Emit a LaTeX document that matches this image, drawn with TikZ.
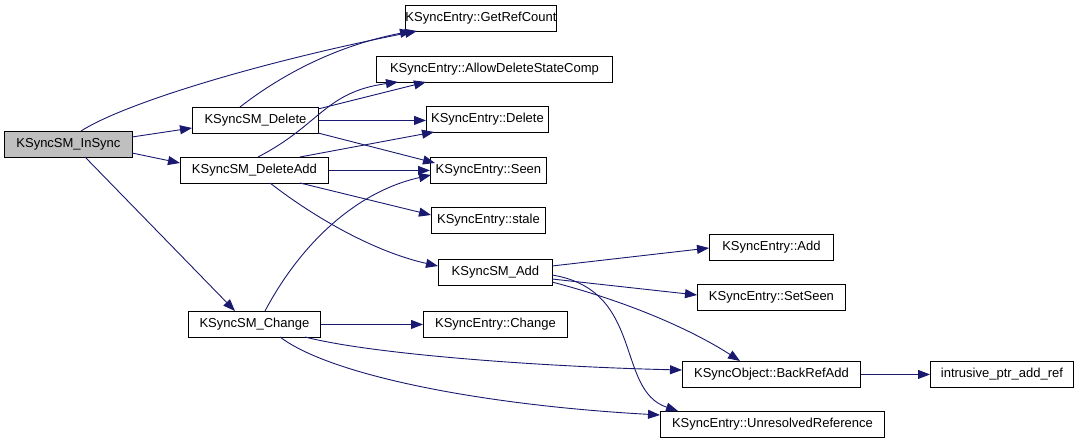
\documentclass[tikz,border=0pt]{standalone}
\usepackage{fontspec}
\setmainfont{Liberation Sans}
\usetikzlibrary{arrows.meta,calc}
\definecolor{edgeblue}{HTML}{191970}
\definecolor{nodegray}{HTML}{BFBFBF}
\begin{document}
\begin{tikzpicture}[x=1pt,y=-1pt,
  fn/.style={draw=black,line width=0.9pt,fill=white,minimum height=26pt,inner sep=0pt,
    font=\fontsize{13}{16}\selectfont,anchor=north west},
  call/.style={draw=edgeblue,line width=0.9pt,-{Triangle[length=12pt,width=9pt]},fill=none}]
\useasboundingbox (0,0) rectangle (1079,443);
% nodes (placed by top-left corner)
\node[fn,fill=nodegray,minimum width=128pt] (insync) at (4,131) {KSyncSM\_InSync};
\node[fn,minimum width=126pt] (del) at (192,107) {KSyncSM\_Delete};
\node[fn,minimum width=148pt] (deladd) at (180,157) {KSyncSM\_DeleteAdd};
\node[fn,minimum width=132pt] (change) at (188,311) {KSyncSM\_Change};
\node[fn,minimum width=114pt] (add) at (438,259) {KSyncSM\_Add};
\node[fn,minimum width=150pt] (getref) at (405,5) {KSyncEntry::GetRefCount};
\node[fn,minimum width=236pt] (allow) at (376,56) {KSyncEntry::AllowDeleteStateComp};
\node[fn,minimum width=122pt] (edel) at (426,106) {KSyncEntry::Delete};
\node[fn,minimum width=116pt] (seen) at (430,157) {KSyncEntry::Seen};
\node[fn,minimum width=114pt] (stale) at (431,207) {KSyncEntry::stale};
\node[fn,minimum width=124pt] (eadd) at (709,234) {KSyncEntry::Add};
\node[fn,minimum width=148pt] (setseen) at (697,284) {KSyncEntry::SetSeen};
\node[fn,minimum width=144pt] (echange) at (423,311) {KSyncEntry::Change};
\node[fn,minimum width=178pt] (backref) at (682,361) {KSyncObject::BackRefAdd};
\node[fn,minimum width=143pt] (intr) at (930,361) {intrusive\_ptr\_add\_ref};
\node[fn,minimum width=224pt] (unres) at (660,411) {KSyncEntry::UnresolvedReference};
% edges
\draw[call] ($(insync.north west)+(77,0)$) .. controls (125,103) and (260,62) .. ($(getref.north west)+(12,26)$);
\draw[call] ($(insync.north west)+(128,6)$) -- ($(del.north west)+(0,21)$);
\draw[call] ($(insync.north west)+(128,22)$) -- ($(deladd.north west)+(0,6)$);
\draw[call] ($(insync.north west)+(81,26)$) -- ($(change.north west)+(47,0)$);
\draw[call] ($(del.north west)+(48,0)$) .. controls (285,72) and (340,45) .. ($(getref.north west)+(7,26)$);
\draw[call] ($(del.north west)+(126,2)$) -- ($(allow.north west)+(50,26)$);
\draw[call] (del.east) -- (edel.west |- del.east);
\draw[call] ($(del.north west)+(126,26)$) -- ($(seen.north west)+(5,6)$);
\draw[call] ($(deladd.north west)+(78,0)$) .. controls (320,125) and (325,92) .. ($(allow.north west)+(22,26)$);
\draw[call] ($(deladd.north west)+(120,0)$) -- ($(edel.north west)+(8,26)$);
\draw[call] (deladd.east) -- (seen.west);
\draw[call] ($(deladd.north west)+(120,26)$) -- ($(stale.north west)+(0,8)$);
\draw[call] ($(deladd.north west)+(90,26)$) .. controls (315,218) and (375,252) .. ($(add.north west)+(0,7)$);
\draw[call] ($(change.north west)+(77,0)$) .. controls (300,245) and (355,192) .. ($(seen.north west)+(1,18)$);
\draw[call] (change.east) -- (echange.west);
\draw[call] ($(change.north west)+(117,26)$) .. controls (375,355) and (550,367) .. ($(backref.north west)+(0,9)$);
\draw[call] ($(change.north west)+(92,26)$) .. controls (330,375) and (480,405) .. ($(unres.north west)+(0,4)$);
\draw[call] ($(add.north west)+(114,7)$) -- ($(eadd.north west)+(0,14)$);
\draw[call] ($(add.north west)+(114,20)$) -- ($(setseen.north west)+(0,11)$);
\draw[call] ($(add.north west)+(114,23)$) .. controls (640,305) and (700,335) .. ($(backref.north west)+(58,0)$);
\draw[call] ($(add.north west)+(114,16)$) .. controls (645,290) and (615,390) .. ($(unres.north west)+(18,0)$);
\draw[call] (backref.east) -- (intr.west);
\end{tikzpicture}
\end{document}
